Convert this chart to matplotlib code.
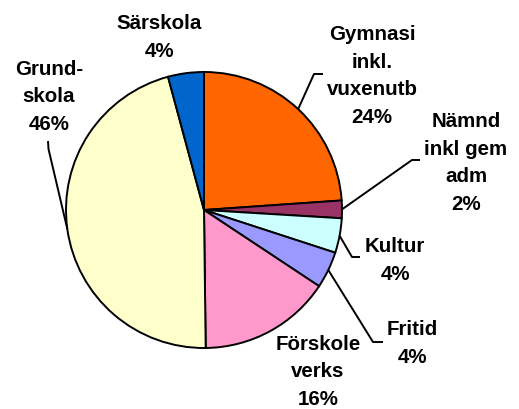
import numpy as np
import matplotlib
matplotlib.use("Agg")
import matplotlib.pyplot as plt

categories = ["Gymnasi\ninkl.\nvuxenutb", "Nämnd\ninkl gem\nadm", "Kultur", "Fritid",
              "Förskole\nverks", "Grund-\nskola", "Särskola"]
values = [23.9, 2.06, 4.05, 4.3, 15.5, 46.0, 4.2]
pct_labels = ["24%", "2%", "4%", "4%", "16%", "46%", "4%"]
colors = ["#FF6600", "#993366", "#CCFFFF", "#9999FF", "#FF99CC", "#FFFFCC", "#0066CC"]

W, H = 519, 410
fig = plt.figure(figsize=(W / 100, H / 100), dpi=100)
ax = fig.add_axes([0, 0, 1, 1])

cx, cy, r = 204, H - 211, 138
wedges, _ = ax.pie(values, colors=colors, startangle=90, counterclock=False,
                   center=(cx, cy), radius=r,
                   wedgeprops=dict(edgecolor="black", linewidth=1.4))
ax.set_xlim(0, W)
ax.set_ylim(0, H)
ax.set_aspect("equal")
ax.axis("off")

# label positions in pixels (center x, last-line baseline y) and leader elbows
label_pos = [(372, 123), (466, 210), (395, 280), (412, 363), (318, 405), (49, 130), (159, 57)]
leaders = [[(314, 75), (323, 75)],
           [(412, 161), (420, 161)],
           [(352, 258), (360, 258)],
           [(373, 343), (383, 343)],
           None,
           [(48.5, 150), (48, 142)],
           None]

for w, cat, pct, (lx, ly), ld in zip(wedges, categories, pct_labels, label_pos, leaders):
    ax.text(lx, H - ly, cat + "\n" + pct, ha="center", va="baseline",
            fontsize=14.8, fontweight="bold", family="Liberation Sans",
            linespacing=1.57, color="black")
    if ld is not None:
        mid = np.deg2rad((w.theta1 + w.theta2) / 2)
        xs = [cx + r * np.cos(mid)] + [p[0] for p in ld]
        ys = [cy + r * np.sin(mid)] + [H - p[1] for p in ld]
        ax.plot(xs, ys, color="black", linewidth=1.4, solid_capstyle="butt")

fig.savefig("out.png", dpi=100)
